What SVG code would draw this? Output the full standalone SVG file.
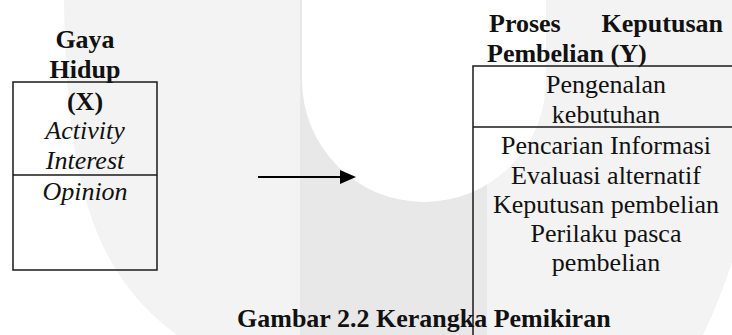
<svg xmlns="http://www.w3.org/2000/svg" width="732" height="335" viewBox="0 0 732 335">
  <style>
    text { font-family: "Liberation Serif", "Times New Roman", serif; font-size: 26px; fill: #111; }
    .b { font-weight: bold; }
    .i { font-style: italic; }
    .c { text-anchor: middle; }
    .box { fill: none; stroke: #1a1a1a; stroke-width: 1.5; }
  </style>
  <defs>
    <marker id="arrow" viewBox="0 0 16 14" refX="0" refY="7" markerWidth="16" markerHeight="14" markerUnits="userSpaceOnUse" orient="auto">
      <polygon points="0,0 16,7 0,14" fill="#000"/>
    </marker>
  </defs>

  <!-- background watermark -->
  <g id="watermark">
    <rect x="0" y="0" width="732" height="335" fill="#ffffff"/>
    <path d="M64,0 L732,0 L732,262 Q720,300 703,335 L177,335 C88,270 66,170 64,0 Z" fill="#f3f3f3"/>
    <rect x="300" y="0" width="187" height="335" fill="#e8e8e8"/>
    <path d="M302,0 L302,80 A122,122 0 0 0 546,80 L546,0 Z" fill="#ffffff"/>
  </g>

  <g id="node-x">
    <text class="b c" x="85" y="48">Gaya</text>
    <text class="b c" x="85" y="78">Hidup</text>
    <rect class="box" x="13" y="82" width="144" height="188"/>
    <line class="box" x1="13" y1="175" x2="157" y2="175"/>
    <text class="b c" x="85" y="110">(X)</text>
    <text class="i c" x="85" y="139">Activity</text>
    <text class="i c" x="85" y="169">Interest</text>
    <text class="i c" x="85" y="200">Opinion</text>
  </g>

  <g id="node-y">
    <text class="b" x="489" y="32">Proses</text>
    <text class="b" x="723" y="32" text-anchor="end">Keputusan</text>
    <text class="b" x="487" y="62">Pembelian (Y)</text>
    <path class="box" d="M740,66 L473,66 L473,340"/>
    <line class="box" x1="473" y1="127" x2="740" y2="127"/>
    <text class="c" x="606" y="93">Pengenalan</text>
    <text class="c" x="606" y="123">kebutuhan</text>
    <text class="c" x="606" y="154">Pencarian Informasi</text>
    <text class="c" x="606" y="184">Evaluasi alternatif</text>
    <text class="c" x="606" y="213">Keputusan pembelian</text>
    <text class="c" x="606" y="242">Perilaku pasca</text>
    <text class="c" x="606" y="271">pembelian</text>
  </g>

  <g id="connectors">
    <line x1="258" y1="177" x2="340" y2="177" stroke="#000" stroke-width="2" marker-end="url(#arrow)"/>
  </g>

  <g id="caption">
    <text class="b" x="237" y="327">Gambar 2.2 Kerangka Pemikiran</text>
  </g>
</svg>
